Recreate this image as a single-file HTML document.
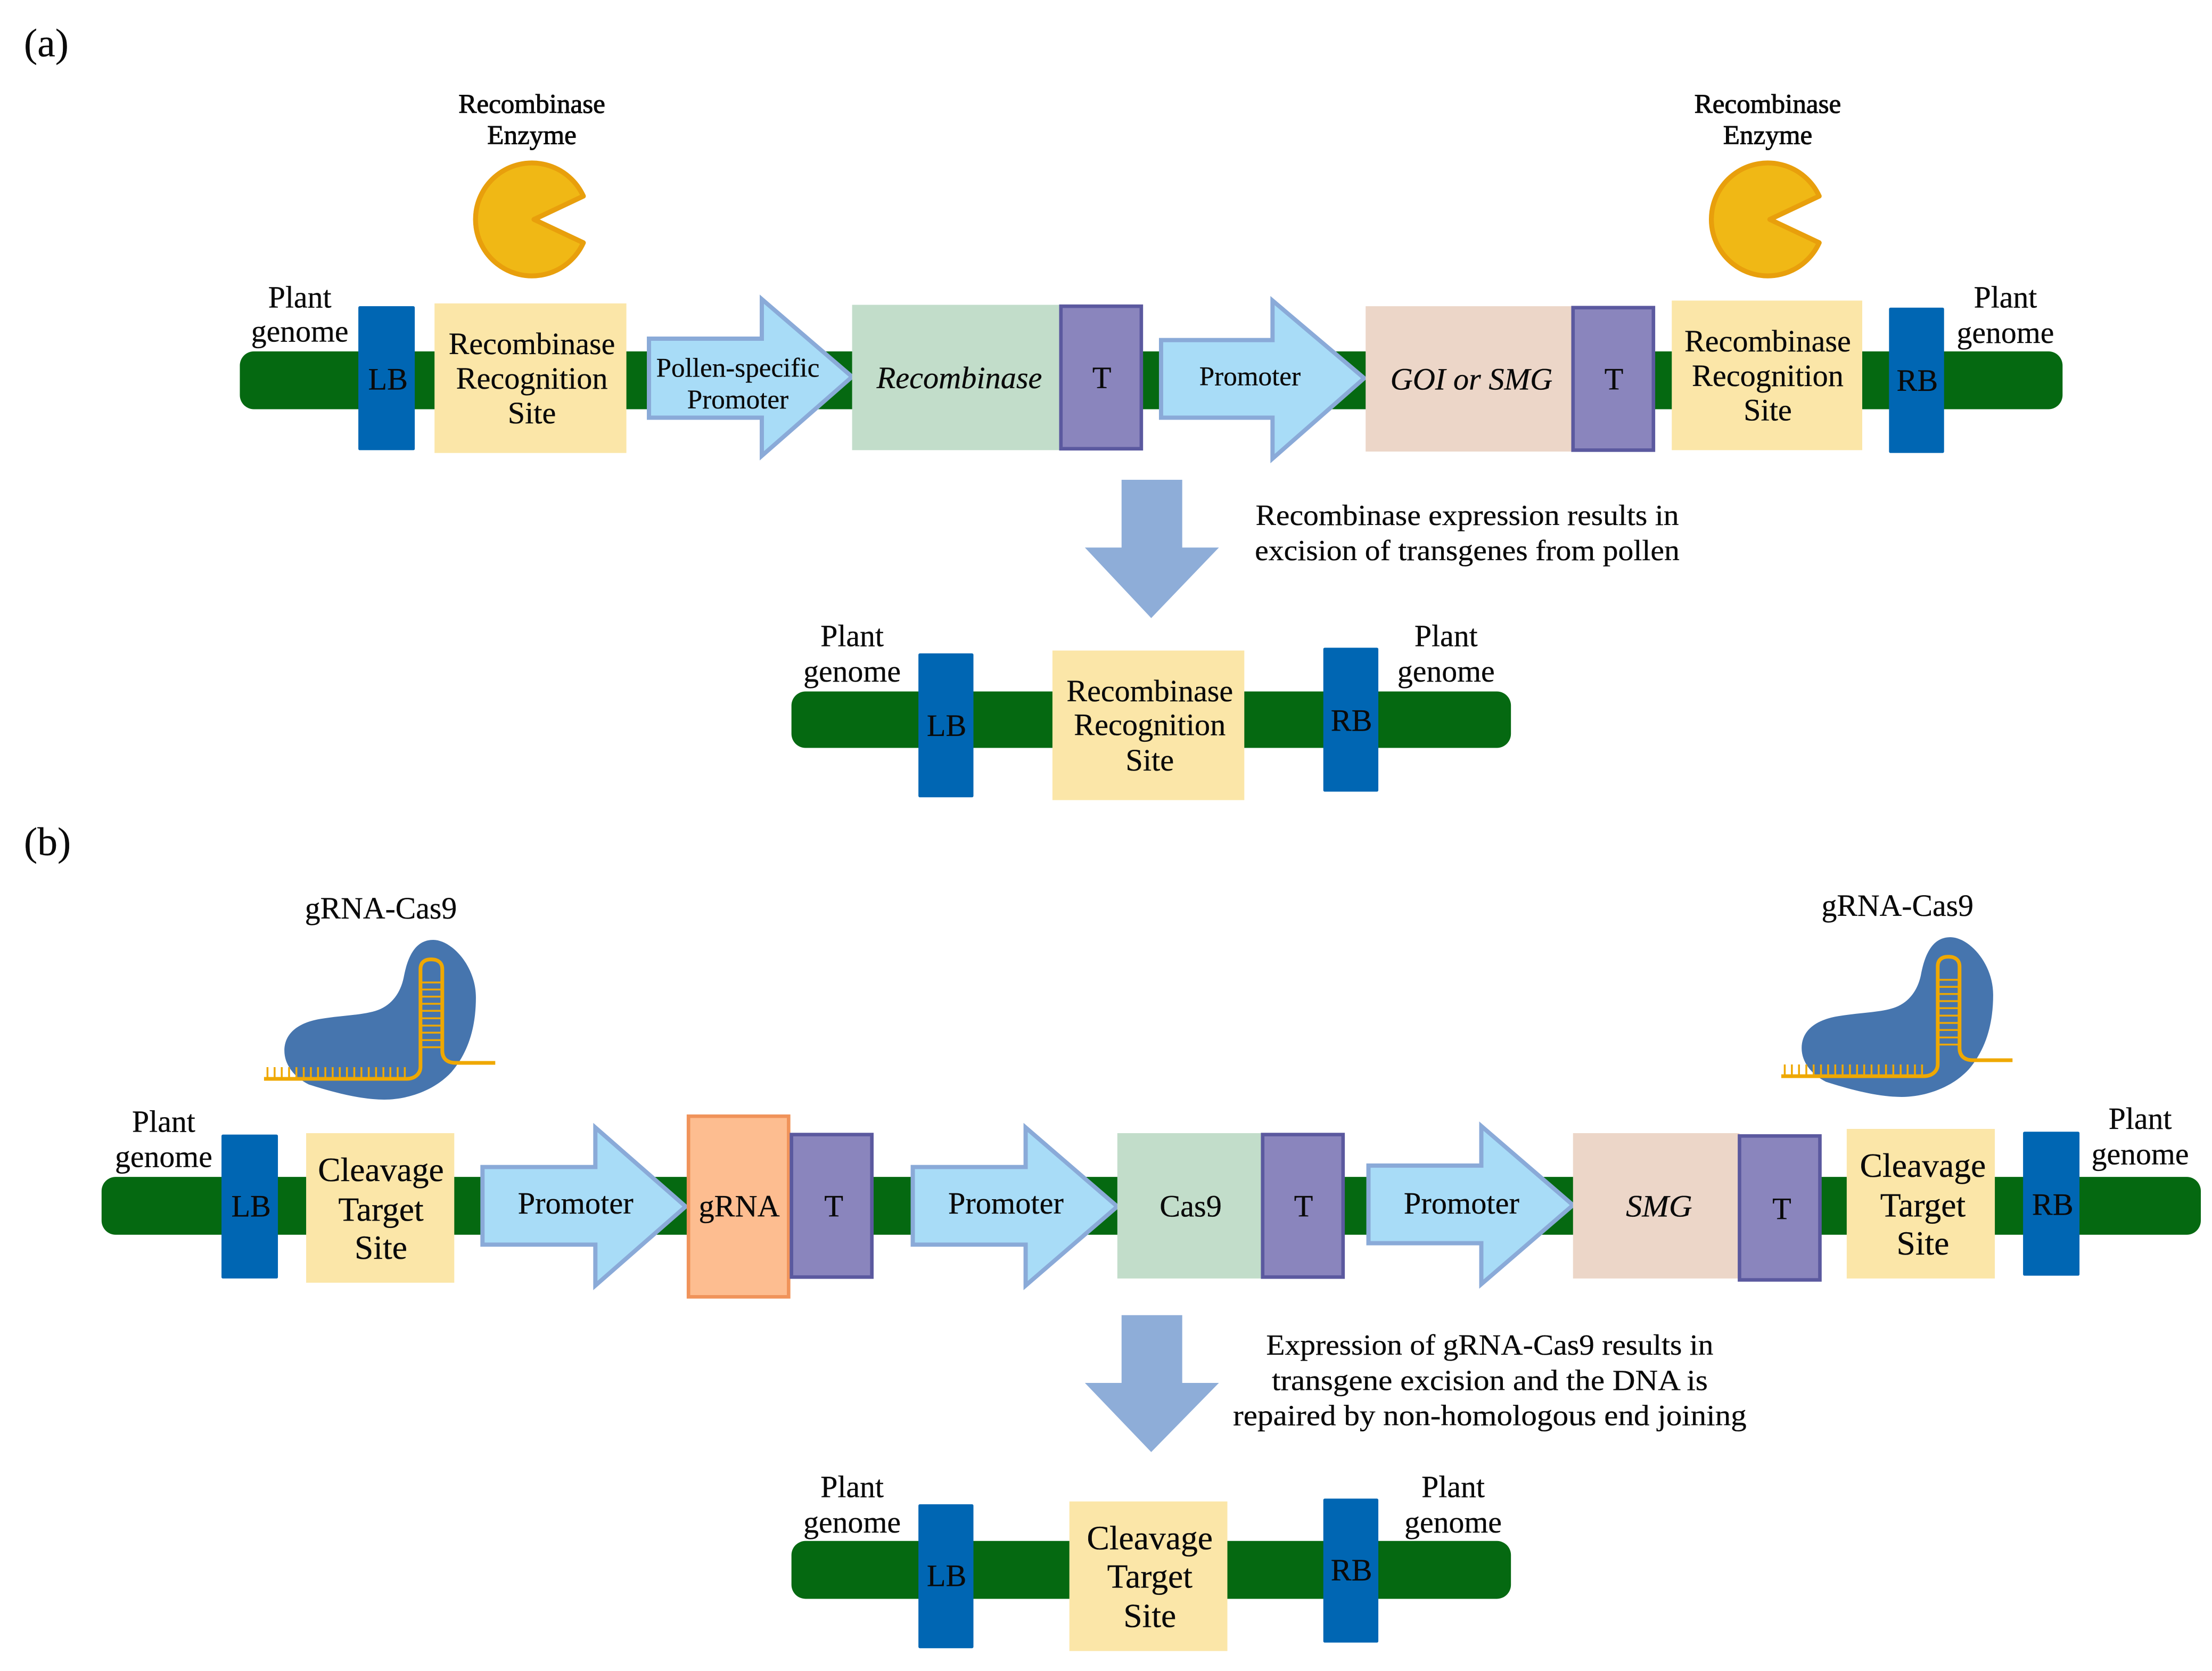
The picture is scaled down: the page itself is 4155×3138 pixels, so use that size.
<!DOCTYPE html>
<html><head><meta charset="utf-8"><style>
html,body{margin:0;padding:0;background:#fff}
svg{display:block}
text{font-family:"Liberation Serif",serif;fill:#0a0a0a;text-anchor:middle;font-size:22px;stroke:#0a0a0a;stroke-width:.12px}
.s{font-size:19.3px}
.l{font-size:21.8px}
.c{font-size:24px}
.h{font-size:19.3px;stroke-width:.4px}
.i{font-style:italic}
.e{font-size:20.8px}
.p{font-size:28.5px;text-anchor:start}
.T{fill:#8a85bd;stroke:#5b599f;stroke-width:2.5}
.a{fill:#a8dcf7;stroke:#8aaad8;stroke-width:3}
.R{fill:#056911}
.B{fill:#0066b3}
.Y{fill:#fbe6a8}
.D{fill:#8eadd8}
</style></head><body>
<svg xmlns="http://www.w3.org/2000/svg" width="4155" height="3138" viewBox="0 0 4155 3138">
<rect width="4155" height="3138" fill="#fff"/>
<defs>
<g id="cas">
<path vector-effect="non-scaling-stroke" fill="#4675ae" d="M950 375C1040 375 1160 520 1160 700C1160 850 1130 1000 1040 1120C960 1220 830 1275 710 1275C590 1275 450 1230 340 1190C270 1150 220 1080 220 1000C220 900 290 840 400 820C500 800 610 800 680 770C750 740 790 670 805 590C820 500 850 375 950 375Z"/>
<path vector-effect="non-scaling-stroke" fill="none" stroke="#efa800" stroke-width="7" d="M120 1158H820C860 1158 888 1130 888 1090V540C888 505 905 485 940 485C975 485 995 505 995 540V1000C995 1045 1020 1068 1060 1068H1255"/>
<path vector-effect="non-scaling-stroke" fill="none" stroke="#efa800" stroke-width="3.500" d="M890 615H990M890 655H990M890 695H990M890 735H990M890 775H990M890 817H990M890 858H990M890 898H990M890 940H990M890 980H990M137 1092V1158M172 1092V1158M207 1092V1158M243 1092V1158M279 1092V1158M315 1092V1158M350 1092V1158M385 1092V1158M421 1092V1158M457 1092V1158M492 1092V1158M527 1092V1158M563 1092V1158M598 1092V1158M634 1092V1158M670 1092V1158M706 1092V1158M740 1092V1158M776 1092V1158M811 1092V1158"/>
</g>
<path id="pac" fill="#f0b815" stroke="#e89f0c" stroke-width="3.500" stroke-linejoin="round" d="M413.500 139A40 40 0 1 0 413.500 172L378.500 155.500Z"/>
</defs>
<g transform="scale(2.65)">
<text class="p" x="17" y="40">(a)</text>
<text class="h" x="377" y="80" textLength="104" lengthAdjust="spacingAndGlyphs">Recombinase</text>
<text class="h" x="377" y="102">Enzyme</text>
<text class="h" x="1253" y="80" textLength="104" lengthAdjust="spacingAndGlyphs">Recombinase</text>
<text class="h" x="1253" y="102">Enzyme</text>
<use href="#pac"/>
<use href="#pac" x="876"/>

<rect class="R" x="170" y="249" width="1292" height="41" rx="10"/>
<rect class="B" x="254" y="217" width="40" height="102" rx="1"/>
<rect class="Y" x="308" y="215" width="136" height="106"/>
<path class="a" d="M460 240H540V212L604 267L540 323V296H460Z"/>
<rect x="604" y="216" width="148" height="103" fill="#c2ddca"/>
<rect class="T" x="752" y="217" width="57" height="101"/>
<path class="a" d="M823 241H902V213L967 268L902 325V296H823Z"/>
<rect x="968" y="217" width="147" height="103" fill="#ecd6c8"/>
<rect class="T" x="1115" y="218" width="57" height="101"/>
<rect class="Y" x="1185" y="213" width="135" height="106"/>
<rect class="B" x="1339" y="218" width="39" height="103" rx="1"/>

<text class="l" x="212.500" y="218">Plant</text><text class="l" x="212.500" y="242">genome</text>
<text x="275" y="276">LB</text>
<text x="377" y="251" textLength="118" lengthAdjust="spacingAndGlyphs">Recombinase</text><text x="377" y="275.500">Recognition</text><text x="377" y="300">Site</text>
<text class="s" x="523" y="267">Pollen-specific</text><text class="s" x="523" y="289.500">Promoter</text>
<text class="i" x="680" y="275">Recombinase</text>
<text x="781" y="275">T</text>
<text class="s" x="886" y="273">Promoter</text>
<text class="i" x="1043" y="276" textLength="115" lengthAdjust="spacingAndGlyphs">GOI or SMG</text>
<text x="1144" y="276">T</text>
<text x="1253" y="249" textLength="118" lengthAdjust="spacingAndGlyphs">Recombinase</text><text x="1253" y="273.500">Recognition</text><text x="1253" y="298">Site</text>
<text x="1359" y="277">RB</text>
<text class="l" x="1421.500" y="218">Plant</text><text class="l" x="1421.500" y="243">genome</text>

<path class="D" d="M795 340H838V388H864L816 438L769 388H795Z"/>
<text class="e" x="1040" y="372" textLength="300" lengthAdjust="spacingAndGlyphs">Recombinase expression results in</text>
<text class="e" x="1040" y="397" textLength="301" lengthAdjust="spacingAndGlyphs">excision of transgenes from pollen</text>

<rect class="R" x="561" y="490" width="510" height="40" rx="10"/>
<rect class="B" x="651" y="463" width="39" height="102" rx="1"/>
<rect class="Y" x="746" y="461" width="136" height="106"/>
<rect class="B" x="938" y="459" width="39" height="102" rx="1"/>
<text class="l" x="604" y="458">Plant</text><text class="l" x="604" y="483">genome</text>
<text class="l" x="1025" y="458">Plant</text><text class="l" x="1025" y="483">genome</text>
<text x="671" y="521.500">LB</text><text x="958" y="518">RB</text>
<text x="815" y="497" textLength="118" lengthAdjust="spacingAndGlyphs">Recombinase</text><text x="815" y="521">Recognition</text><text x="815" y="546">Site</text>

<text class="p" x="17" y="606">(b)</text>
<text class="l" x="270" y="651">gRNA-Cas9</text>
<text class="l" x="1345" y="649">gRNA-Cas9</text>

<rect class="R" x="72" y="834" width="1488" height="41" rx="10"/>
<rect class="B" x="157" y="804" width="40" height="102" rx="1"/>
<rect class="Y" x="217" y="803" width="105" height="106"/>
<path class="a" d="M342 827H422V799L486 855L422 911V882H342Z"/>
<rect x="488" y="791" width="71" height="128" fill="#fdbd90" stroke="#f0935a" stroke-width="2.500"/>
<rect class="T" x="561" y="804" width="57" height="101"/>
<path class="a" d="M647 827H727V799L792 855L727 911V882H647Z"/>
<rect x="792" y="803" width="103" height="103" fill="#c2ddca"/>
<rect class="T" x="895" y="804" width="57" height="101"/>
<path class="a" d="M970 826H1050V798L1115 854L1050 910V881H970Z"/>
<rect x="1115" y="803" width="118" height="103" fill="#ecd6c8"/>
<rect class="T" x="1233" y="805" width="57" height="102"/>
<rect class="Y" x="1309" y="800" width="105" height="106"/>
<rect class="B" x="1434" y="802" width="40" height="102" rx="1"/>

<text class="l" x="116" y="802">Plant</text><text class="l" x="116" y="827">genome</text>
<text x="178" y="862">LB</text>
<text class="c" x="270" y="837">Cleavage</text><text class="c" x="270" y="865">Target</text><text class="c" x="270" y="892">Site</text>
<text x="408" y="860">Promoter</text>
<text x="524" y="862">gRNA</text>
<text x="591" y="862">T</text>
<text x="713" y="860">Promoter</text>
<text x="844" y="862">Cas9</text>
<text x="924" y="862">T</text>
<text x="1036" y="860">Promoter</text>
<text class="i" x="1176" y="862" textLength="47" lengthAdjust="spacingAndGlyphs">SMG</text>
<text x="1263" y="864">T</text>
<text class="c" x="1363" y="834">Cleavage</text><text class="c" x="1363" y="862">Target</text><text class="c" x="1363" y="889">Site</text>
<text x="1455" y="861">RB</text>
<text class="l" x="1517" y="800">Plant</text><text class="l" x="1517" y="825">genome</text>

<path class="D" d="M795 932H838V980H864L816 1029L769 980H795Z"/>
<text class="e" x="1056" y="960" textLength="317" lengthAdjust="spacingAndGlyphs">Expression of gRNA-Cas9 results in</text>
<text class="e" x="1056" y="985" textLength="309" lengthAdjust="spacingAndGlyphs">transgene excision and the DNA is</text>
<text class="e" x="1056" y="1010" textLength="364" lengthAdjust="spacingAndGlyphs">repaired by non-homologous end joining</text>

<rect class="R" x="561" y="1092" width="510" height="41" rx="10"/>
<rect class="B" x="651" y="1066" width="39" height="102" rx="1"/>
<rect class="Y" x="758" y="1064" width="112" height="106"/>
<rect class="B" x="938" y="1062" width="39" height="102" rx="1"/>
<text class="l" x="604" y="1061">Plant</text><text class="l" x="604" y="1086">genome</text>
<text class="l" x="1030" y="1061">Plant</text><text class="l" x="1030" y="1086">genome</text>
<text x="671" y="1124">LB</text><text x="958" y="1120">RB</text>
<text class="c" x="815" y="1098">Cleavage</text><text class="c" x="815" y="1125">Target</text><text class="c" x="815" y="1153">Site</text>
</g>
<use href="#cas" transform="translate(450,1640) scale(.3827,.3333)"/>
<use href="#cas" transform="translate(3300,1635) scale(.3827,.3333)"/>
</svg>
</body></html>
